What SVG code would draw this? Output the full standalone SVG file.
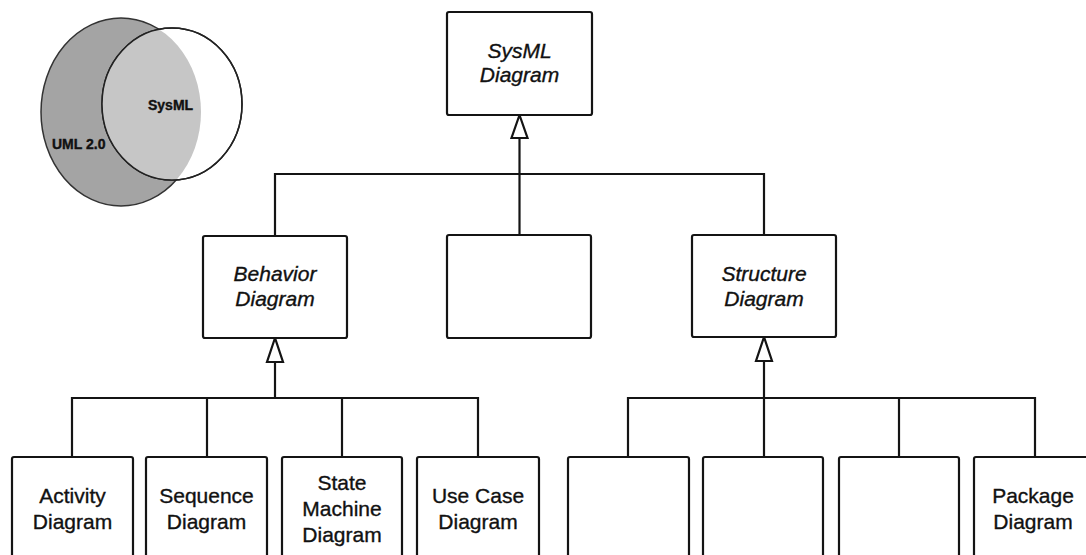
<svg xmlns="http://www.w3.org/2000/svg" width="1086" height="555" viewBox="0 0 1086 555">
  <style>
    .box { fill: #ffffff; stroke: #141414; stroke-width: 2.2; }
    .wire { fill: none; stroke: #141414; stroke-width: 2.2; }
    .head { fill: #ffffff; stroke: #141414; stroke-width: 2.2; stroke-linejoin: miter; }
    .lbl { font-family: "Liberation Sans", Arial, sans-serif; font-size: 21px; fill: #111111; stroke: #111111; stroke-width: 0.35; text-anchor: middle; }
    .abs { font-style: italic; }
    .venn { font-family: "Liberation Sans", Arial, sans-serif; font-size: 14px; font-weight: bold; fill: #111111; stroke: #111111; stroke-width: 0.4; }
  </style>
  <defs>
    <clipPath id="umlClip">
      <ellipse cx="121" cy="112" rx="80" ry="94"/>
    </clipPath>
  </defs>
  <rect width="1086" height="555" fill="#ffffff"/>

  <!-- Venn: UML 2.0 and SysML -->
  <g id="venn">
    <ellipse cx="121" cy="112" rx="80" ry="94" fill="#a4a4a4" stroke="#333333" stroke-width="1.5"/>
    <ellipse cx="172" cy="104" rx="70" ry="76" fill="#ffffff" stroke="#222222" stroke-width="1.5"/>
    <ellipse cx="172" cy="104" rx="70" ry="76" fill="#c6c6c6" clip-path="url(#umlClip)"/>
    <ellipse cx="172" cy="104" rx="70" ry="76" fill="none" stroke="#222222" stroke-width="1.5"/>
    <text class="venn" x="148" y="110">SysML</text>
    <text class="venn" x="52" y="149">UML 2.0</text>
  </g>

  <!-- Generalization connectors -->
  <g id="connectors">
    <path class="wire" d="M275 236 V174 H764 V235"/>
    <path class="wire" d="M519.5 138 V235"/>
    <polygon class="head" points="519.5,115 511.5,138 527.5,138"/>

    <path class="wire" d="M275 362 V398"/>
    <path class="wire" d="M72 457 V398 H478 V457"/>
    <path class="wire" d="M207 398 V457"/>
    <path class="wire" d="M342 398 V457"/>
    <polygon class="head" points="275,338 267,362 283,362"/>

    <path class="wire" d="M764 361 V457"/>
    <path class="wire" d="M628 457 V398 H1035 V457"/>
    <path class="wire" d="M899 398 V457"/>
    <polygon class="head" points="764,337 756,361 772,361"/>
  </g>

  <g id="sysml-diagram">
    <rect class="box" x="447" y="12" width="145" height="103" rx="2"/>
    <text class="lbl abs" x="519.5" y="58">SysML</text>
    <text class="lbl abs" x="519.5" y="82">Diagram</text>
  </g>

  <g id="behavior-diagram">
    <rect class="box" x="203" y="236" width="144" height="102" rx="2"/>
    <text class="lbl abs" x="275" y="281">Behavior</text>
    <text class="lbl abs" x="275" y="306">Diagram</text>
  </g>

  <g id="requirement-diagram">
    <rect class="box" x="447" y="235" width="144" height="103" rx="2"/>
  </g>

  <g id="structure-diagram">
    <rect class="box" x="692" y="235" width="144" height="102" rx="2"/>
    <text class="lbl abs" x="764" y="281">Structure</text>
    <text class="lbl abs" x="764" y="306">Diagram</text>
  </g>

  <g id="activity-diagram">
    <rect class="box" x="12" y="457" width="121" height="140" rx="2"/>
    <text class="lbl" x="72.5" y="503">Activity</text>
    <text class="lbl" x="72.5" y="529">Diagram</text>
  </g>

  <g id="sequence-diagram">
    <rect class="box" x="146" y="457" width="121" height="140" rx="2"/>
    <text class="lbl" x="206.5" y="503">Sequence</text>
    <text class="lbl" x="206.5" y="529">Diagram</text>
  </g>

  <g id="state-machine-diagram">
    <rect class="box" x="282" y="457" width="120" height="140" rx="2"/>
    <text class="lbl" x="342" y="490">State</text>
    <text class="lbl" x="342" y="516">Machine</text>
    <text class="lbl" x="342" y="542">Diagram</text>
  </g>

  <g id="use-case-diagram">
    <rect class="box" x="417" y="457" width="122" height="140" rx="2"/>
    <text class="lbl" x="478" y="503">Use Case</text>
    <text class="lbl" x="478" y="529">Diagram</text>
  </g>

  <g id="block-definition-diagram">
    <rect class="box" x="568" y="457" width="121" height="140" rx="2"/>
  </g>

  <g id="internal-block-diagram">
    <rect class="box" x="703" y="457" width="120" height="140" rx="2"/>
  </g>

  <g id="parametric-diagram">
    <rect class="box" x="839" y="457" width="120" height="140" rx="2"/>
  </g>

  <g id="package-diagram">
    <rect class="box" x="974" y="457" width="121" height="140" rx="2"/>
    <text class="lbl" x="1033" y="503">Package</text>
    <text class="lbl" x="1033" y="529">Diagram</text>
  </g>
</svg>
